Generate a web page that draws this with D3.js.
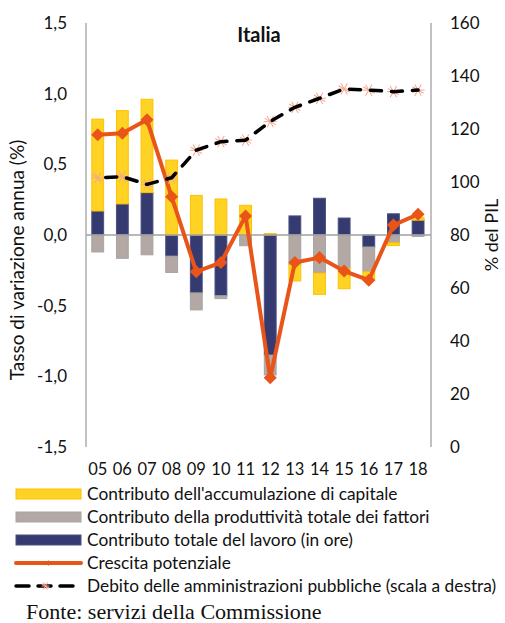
<!DOCTYPE html>
<html>
<head>
<meta charset="utf-8">
<script src="https://cdn.jsdelivr.net/npm/d3@7"></script>
<style>
  html, body { margin: 0; padding: 0; background: #fff; }
  svg { display: block; }
</style>
</head>
<body>
<svg id="chart" width="505" height="623"></svg>
<script>
// Years (2005-2018)
const years = ["05","06","07","08","09","10","11","12","13","14","15","16","17","18"];

// Contributions to potential growth (percentage points)
const labour  = [0.17, 0.22, 0.30, -0.15, -0.41, -0.43, 0.00, -0.85, 0.135, 0.26, 0.12, -0.085, 0.15, 0.105];
const tfp     = [-0.12, -0.165, -0.14, -0.115, -0.12, -0.02, -0.076, -0.14, -0.21, -0.27, -0.235, -0.175, -0.055, -0.01];
const capital = [0.65, 0.66, 0.66, 0.53, 0.28, 0.255, 0.21, 0.01, -0.115, -0.15, -0.145, -0.06, -0.02, 0.02];

// Potential growth (%)
const potential = [0.71, 0.72, 0.815, 0.27, -0.26, -0.195, 0.135, -1.01, -0.195, -0.16, -0.255, -0.32, 0.07, 0.147];

// General government debt (% of GDP, right axis)
const debt = [101.6, 102.0, 99.1, 101.6, 112.0, 115.2, 115.8, 122.8, 128.2, 131.6, 135.1, 134.7, 134.1, 134.7];

const leftTicks  = [-1.5, -1.0, -0.5, 0, 0.5, 1.0, 1.5];
const rightTicks = [0, 20, 40, 60, 80, 100, 120, 140, 160];

const legendItems = [
  "Contributo dell'accumulazione di capitale",
  "Contributo della produttività totale dei fattori",
  "Contributo totale del lavoro (in ore)",
  "Crescita potenziale",
  "Debito delle amministrazioni pubbliche (scala a destra)"
];

const colors = {
  capital: "#FFD324", capitalEdge: "#FFC000",
  tfp: "#B3A8A3", tfpEdge: "#A5A5A5",
  labour: "#353A70", labourEdge: "#4A5080",
  potential: "#E95419",
  debt: "#000000", debtMarker: "#F5A890",
  axis: "#A0A0A0"
};

const font = "Lato, 'Open Sans', sans-serif";
const svg = d3.select("#chart");

const plot = { left: 86, right: 431, top: 23, bottom: 447 };

const x = d3.scaleBand().domain(years).range([plot.left, plot.right]).paddingInner(0).paddingOuter(0);
const yL = d3.scaleLinear().domain([-1.5, 1.5]).range([plot.bottom, plot.top]);
const yR = d3.scaleLinear().domain([0, 160]).range([plot.bottom, plot.top]);
const barW = x.bandwidth() * 0.48;
const cx = d => x(d) + x.bandwidth() / 2 - 0.6;

// Stacked segments: positives stack upward, negatives downward, in series order
const seriesDefs = [
  { key: "labour", values: labour, fill: colors.labour, stroke: colors.labourEdge },
  { key: "tfp", values: tfp, fill: colors.tfp, stroke: colors.tfpEdge },
  { key: "capital", values: capital, fill: colors.capital, stroke: colors.capitalEdge }
];
const segments = [];
years.forEach((yr, i) => {
  let pos = 0, neg = 0;
  seriesDefs.forEach(s => {
    const v = s.values[i];
    let y0, y1;
    if (v >= 0) { y0 = pos; y1 = pos + v; pos = y1; }
    else { y0 = neg; y1 = neg + v; neg = y1; }
    segments.push({ year: yr, y0, y1, fill: s.fill, stroke: s.stroke });
  });
});

svg.append("g").selectAll("rect").data(segments).join("rect")
  .attr("x", d => cx(d.year) - barW / 2)
  .attr("width", barW)
  .attr("y", d => yL(Math.max(d.y0, d.y1)))
  .attr("height", d => Math.abs(yL(d.y0) - yL(d.y1)))
  .attr("fill", d => d.fill)
  .attr("stroke", d => d.stroke)
  .attr("stroke-width", 1);

// Axes
const axisG = svg.append("g");
axisG.append("line").attr("x1", plot.left).attr("x2", plot.left).attr("y1", plot.top).attr("y2", plot.bottom)
  .attr("stroke", colors.axis).attr("stroke-width", 1.3);
axisG.append("line").attr("x1", plot.right).attr("x2", plot.right).attr("y1", plot.top).attr("y2", plot.bottom)
  .attr("stroke", colors.axis).attr("stroke-width", 1.3);
axisG.append("line").attr("x1", plot.left).attr("x2", plot.right).attr("y1", yL(0)).attr("y2", yL(0))
  .attr("stroke", colors.axis).attr("stroke-width", 1.3);

const fmtL = d => d3.format(".1f")(d).replace(".", ",").replace("−", "-");
axisG.append("g").selectAll("text").data(leftTicks).join("text")
  .attr("x", 67).attr("y", d => yL(d)).attr("dy", "0.35em")
  .attr("text-anchor", "end").attr("font-family", font).attr("font-size", 17).attr("fill", "#111")
  .text(fmtL);

axisG.append("g").selectAll("text").data(rightTicks).join("text")
  .attr("x", 450).attr("y", d => yR(d)).attr("dy", "0.35em")
  .attr("text-anchor", "start").attr("font-family", font).attr("font-size", 17).attr("fill", "#111")
  .text(d => d);

axisG.append("g").selectAll("text").data(years).join("text")
  .attr("x", d => cx(d)).attr("y", 469).attr("dy", "0.35em")
  .attr("text-anchor", "middle").attr("font-family", font).attr("font-size", 16.5).attr("fill", "#111")
  .text(d => d);

svg.append("text")
  .attr("transform", `translate(24,260) rotate(-90)`)
  .attr("text-anchor", "middle").attr("font-family", font).attr("font-size", 19).attr("fill", "#111")
  .text("Tasso di variazione annua (%)");

svg.append("text")
  .attr("transform", `translate(498,235) rotate(-90)`)
  .attr("text-anchor", "middle").attr("font-family", font).attr("font-size", 18).attr("fill", "#111")
  .text("% del PIL");

svg.append("text")
  .attr("x", 259).attr("y", 41.5)
  .attr("text-anchor", "middle").attr("font-family", font).attr("font-weight", "bold")
  .attr("font-size", 20).attr("fill", "#111")
  .text("Italia");

// Potential growth line with diamond markers
const potLine = d3.line().x((d, i) => cx(years[i])).y(d => yL(d));
svg.append("path").datum(potential).attr("d", potLine)
  .attr("fill", "none").attr("stroke", colors.potential).attr("stroke-width", 4).attr("stroke-linejoin", "round");
svg.append("g").selectAll("path").data(potential).join("path")
  .attr("d", d3.symbol().type(d3.symbolSquare).size(85))
  .attr("transform", (d, i) => `translate(${cx(years[i])},${yL(d)}) rotate(45)`)
  .attr("fill", colors.potential);

// Debt line (right axis): dashed with asterisk markers
const asterisk = (g, r) => {
  [0, 60, 120].forEach(a => {
    const rad = a * Math.PI / 180;
    g.append("line")
      .attr("x1", -r * Math.sin(rad)).attr("y1", -r * Math.cos(rad))
      .attr("x2", r * Math.sin(rad)).attr("y2", r * Math.cos(rad));
  });
  g.append("line").attr("x1", -r).attr("y1", 0).attr("x2", r).attr("y2", 0);
};
const debtMarks = svg.append("g").attr("stroke", colors.debtMarker).attr("stroke-width", 1);
debt.forEach((d, i) => {
  const g = debtMarks.append("g").attr("transform", `translate(${cx(years[i])},${yR(d)}) rotate(30)`);
  asterisk(g, 6.5);
});
const debtLine = d3.line().x((d, i) => cx(years[i])).y(d => yR(d));
svg.append("path").datum(debt).attr("d", debtLine)
  .attr("fill", "none").attr("stroke", colors.debt).attr("stroke-width", 3.5)
  .attr("stroke-dasharray", "11,10").attr("stroke-dashoffset", -8).attr("stroke-linecap", "round")
  .attr("stroke-linejoin", "round");

// Legend
const leg = svg.append("g");
const rowY = [494, 517, 540, 563, 586];
const sw = { x: 16, w: 65, h: 10 };
const swatches = [
  { fill: colors.capital, stroke: colors.capitalEdge },
  { fill: colors.tfp, stroke: colors.tfpEdge },
  { fill: colors.labour, stroke: colors.labourEdge }
];
swatches.forEach((s, i) => {
  leg.append("rect").attr("x", sw.x).attr("y", rowY[i] - sw.h / 2).attr("width", sw.w).attr("height", sw.h)
    .attr("fill", s.fill).attr("stroke", s.stroke).attr("stroke-width", 1);
});
leg.append("line").attr("x1", sw.x).attr("x2", sw.x + sw.w).attr("y1", rowY[3]).attr("y2", rowY[3])
  .attr("stroke", colors.potential).attr("stroke-width", 4).attr("stroke-linecap", "round");
leg.append("path").attr("d", d3.symbol().type(d3.symbolSquare).size(14)())
  .attr("transform", `translate(${sw.x + sw.w / 2},${rowY[3]}) rotate(45)`).attr("fill", colors.potential);
leg.append("line").attr("x1", sw.x).attr("x2", sw.x + sw.w).attr("y1", rowY[4]).attr("y2", rowY[4])
  .attr("stroke", colors.debt).attr("stroke-width", 3.5).attr("stroke-dasharray", "13,9").attr("stroke-linecap", "round");
const lm = leg.append("g").attr("transform", `translate(${sw.x + sw.w / 2 - 3},${rowY[4]}) rotate(30)`)
  .attr("stroke", colors.debtMarker).attr("stroke-width", 1);
asterisk(lm, 4);

// Legend labels, slightly widened horizontally
leg.selectAll("text.lbl").data(legendItems).join("text").attr("class", "lbl")
  .attr("transform", (d, i) => `translate(87,${rowY[i]}) scale(1.03,1)`)
  .attr("dy", "0.35em")
  .attr("font-family", font).attr("font-size", 16.8).attr("fill", "#111")
  .text(d => d);

svg.append("text")
  .attr("transform", "translate(26,619) scale(1.05,1)")
  .attr("font-family", "'Liberation Serif', 'Times New Roman', serif").attr("font-size", 21).attr("fill", "#111")
  .text("Fonte: servizi della Commissione");
</script>
</body>
</html>
